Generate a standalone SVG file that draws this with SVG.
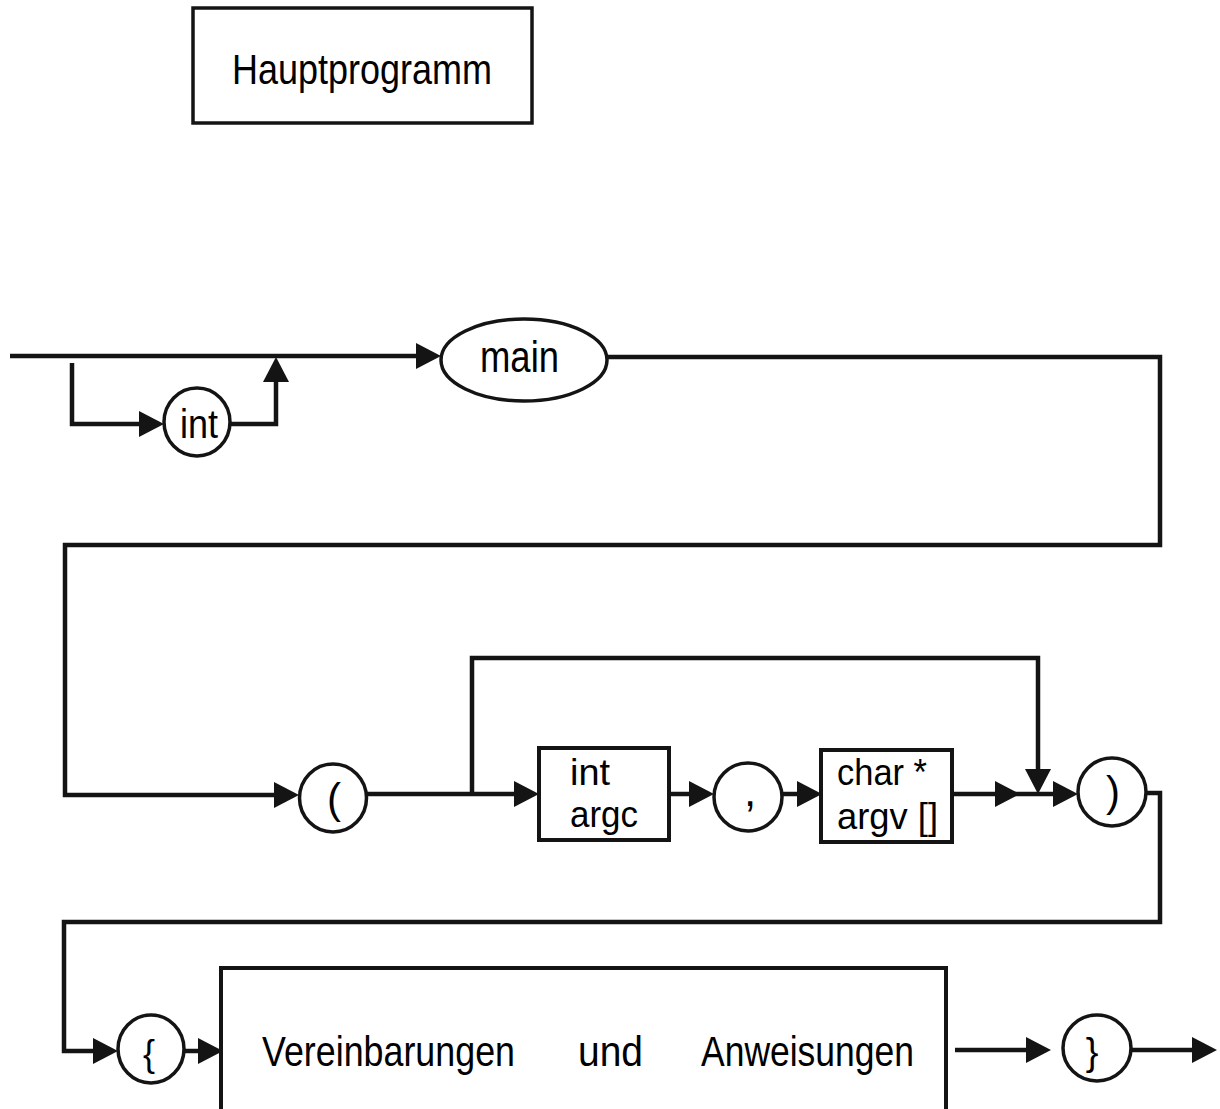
<svg xmlns="http://www.w3.org/2000/svg" width="1220" height="1109" viewBox="0 0 1220 1109">
<style>
.bg{fill:#ffffff}
.ln{fill:none;stroke:#141414;stroke-width:4.5;stroke-linejoin:miter;stroke-linecap:butt}
.shape{fill:#ffffff;stroke:#141414;stroke-width:3.5}
.box{fill:#ffffff;stroke:#141414;stroke-width:4}
.t{font-family:"Liberation Sans",Arial,sans-serif;fill:#000000}
</style>
<defs>
<marker id="ah" markerUnits="userSpaceOnUse" markerWidth="26" markerHeight="26" refX="17" refY="13" orient="auto" overflow="visible">
<path d="M0,0 L25,13 L0,26 Z" fill="#141414"/>
</marker>
</defs>
<rect class="bg" x="0" y="0" width="1220" height="1109"/>

<g id="connectors">
<path class="ln" d="M10,356 H433" marker-end="url(#ah)"/>
<path class="ln" d="M72,363 V424 H156" marker-end="url(#ah)"/>
<path class="ln" d="M230,424 H276 V365" marker-end="url(#ah)"/>
<path class="ln" d="M607,357 H1160 V545 H65 V795 H291" marker-end="url(#ah)"/>
<path class="ln" d="M366,794 H531" marker-end="url(#ah)"/>
<path class="ln" d="M472,794 V658 H1038 V786" marker-end="url(#ah)"/>
<path class="ln" d="M669,794 H706" marker-end="url(#ah)"/>
<path class="ln" d="M782,794 H814" marker-end="url(#ah)"/>
<path class="ln" d="M952,794 H1012" marker-end="url(#ah)"/>
<path class="ln" d="M1012,794 H1070" marker-end="url(#ah)"/>
<path class="ln" d="M1146,793 H1160 V922 H64 V1051 H110" marker-end="url(#ah)"/>
<path class="ln" d="M184,1051 H215" marker-end="url(#ah)"/>
<path class="ln" d="M955,1050 H1043" marker-end="url(#ah)"/>
<path class="ln" d="M1131,1050 H1209" marker-end="url(#ah)"/>
</g>

<g id="title">
<rect class="box" x="193" y="8" width="339" height="115" style="stroke-width:3.5"/>
<text class="t" x="232" y="84" font-size="42" textLength="260" lengthAdjust="spacingAndGlyphs">Hauptprogramm</text>
</g>

<g id="node-int1">
<ellipse class="shape" cx="197" cy="422" rx="33" ry="34"/>
<text class="t" x="180" y="438" font-size="40" textLength="38" lengthAdjust="spacingAndGlyphs">int</text>
</g>

<g id="node-main">
<ellipse class="shape" cx="524" cy="360" rx="83" ry="41"/>
<text class="t" x="480" y="372" font-size="44" textLength="79" lengthAdjust="spacingAndGlyphs">main</text>
</g>

<g id="node-lparen">
<ellipse class="shape" cx="333" cy="798" rx="33.5" ry="34"/>
<text class="t" x="334" y="813" font-size="42" text-anchor="middle">(</text>
</g>

<g id="node-argc">
<rect class="box" x="539" y="748" width="130" height="92"/>
<text class="t" x="570" y="785" font-size="37" textLength="40" lengthAdjust="spacingAndGlyphs">int</text>
<text class="t" x="570" y="827" font-size="37" textLength="68" lengthAdjust="spacingAndGlyphs">argc</text>
</g>

<g id="node-comma">
<ellipse class="shape" cx="748" cy="797" rx="34" ry="34"/>
<text class="t" x="750" y="806" font-size="44" text-anchor="middle">,</text>
</g>

<g id="node-argv">
<rect class="box" x="821" y="750" width="131" height="92"/>
<text class="t" x="837" y="785" font-size="37" textLength="90" lengthAdjust="spacingAndGlyphs">char *</text>
<text class="t" x="837" y="829" font-size="37" textLength="101" lengthAdjust="spacingAndGlyphs">argv []</text>
</g>

<g id="node-rparen">
<ellipse class="shape" cx="1112" cy="792" rx="34" ry="34"/>
<text class="t" x="1113" y="806" font-size="42" text-anchor="middle">)</text>
</g>

<g id="node-lbrace">
<ellipse class="shape" cx="151" cy="1049" rx="33" ry="34"/>
<text class="t" x="149" y="1066" font-size="36" text-anchor="middle">{</text>
</g>

<g id="node-body">
<path class="box" d="M221,1115 V968 H946 V1115" style="fill:#ffffff"/>
<text class="t" x="262" y="1066" font-size="42" textLength="253" lengthAdjust="spacingAndGlyphs">Vereinbarungen</text>
<text class="t" x="578" y="1066" font-size="42" textLength="65" lengthAdjust="spacingAndGlyphs">und</text>
<text class="t" x="701" y="1066" font-size="42" textLength="213" lengthAdjust="spacingAndGlyphs">Anweisungen</text>
</g>

<g id="node-rbrace">
<ellipse class="shape" cx="1097" cy="1048" rx="34" ry="33"/>
<text class="t" x="1092" y="1065" font-size="38" text-anchor="middle">}</text>
</g>
</svg>
